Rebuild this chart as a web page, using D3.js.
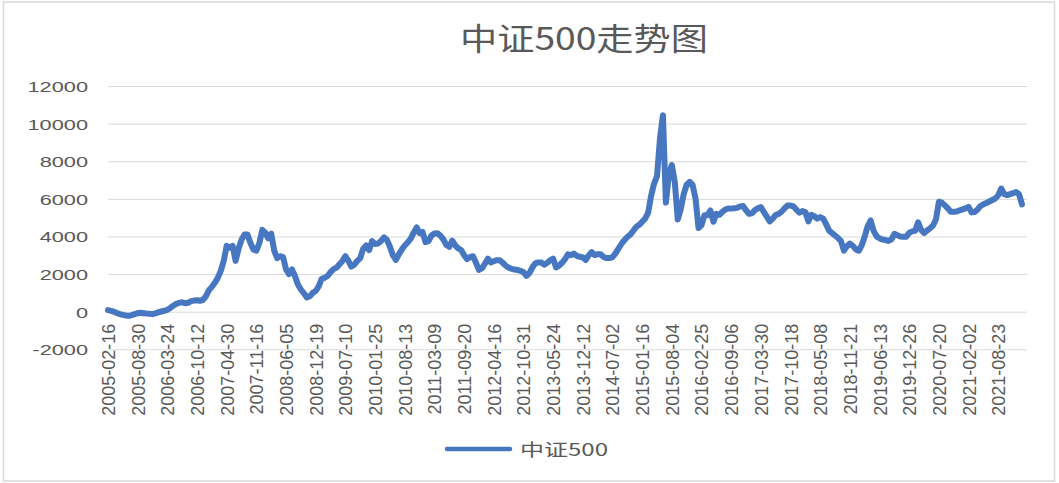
<!DOCTYPE html>
<html>
<head>
<meta charset="utf-8">
<script src="https://cdn.jsdelivr.net/npm/d3@7"></script>
<style>
  body { margin: 0; background: #fff; }
  text { fill: #595959; }
</style>
</head>
<body>
<div id="chart"></div>
<script>
// ============
// Data
// ============

// category labels shown on the x axis (every 10th sample)
var tickDates = [
  "2005-02-16", "2005-08-30", "2006-03-24", "2006-10-12", "2007-04-30",
  "2007-11-16", "2008-06-05", "2008-12-19", "2009-07-10", "2010-01-25",
  "2010-08-13", "2011-03-09", "2011-09-20", "2012-04-16", "2012-10-31",
  "2013-05-24", "2013-12-12", "2014-07-02", "2015-01-16", "2015-08-04",
  "2016-02-25", "2016-09-06", "2017-03-30", "2017-10-18", "2018-05-08",
  "2018-11-21", "2019-06-13", "2019-12-26", "2020-07-20", "2021-02-02",
  "2021-08-23"
];
var samplesPerTick = 10;

var yTicks = [-2000, 0, 2000, 4000, 6000, 8000, 10000, 12000];

// 中证500, one value every ~13 trading days
var csi500 = [
  80, 40, 0, -70, -130, -170, -200, -220, -180, -130,
  -80, -60, -80, -100, -110, -130, -90, -30, 10, 50,
  100, 200, 320, 420, 470, 500, 450, 470, 560, 590,
  610, 580, 620, 830, 1140, 1320, 1540, 1800, 2170, 2700,
  3500, 3400, 3500, 2700, 3350, 3830, 4100, 4100, 3650, 3300,
  3250, 3650, 4350, 4200, 3900, 4150, 3250, 2850, 2950, 2900,
  2250, 2000, 2250, 1900, 1450, 1180, 980, 760, 820, 1000,
  1100, 1350, 1750, 1800, 1900, 2100, 2260, 2340, 2520, 2700,
  2950, 2700, 2400, 2500, 2700, 2850, 3350, 3520, 3280, 3750,
  3600, 3620, 3760, 3950, 3820, 3450, 3000, 2750, 3050, 3300,
  3520, 3680, 3880, 4200, 4480, 4170, 4240, 3700, 3750, 4050,
  4160, 4170, 4050, 3850, 3550, 3450, 3780, 3530, 3370, 3280,
  3000, 2800, 2900, 2950, 2600, 2220, 2300, 2550, 2820, 2620,
  2680, 2740, 2740, 2600, 2450, 2340, 2280, 2240, 2220, 2170,
  2110, 1900, 2050, 2350, 2570, 2620, 2620, 2500, 2600, 2740,
  2820, 2350, 2450, 2600, 2800, 3050, 3000, 3090, 2960, 2920,
  2880, 2750, 3000, 3170, 3010, 3060, 3050, 2910, 2850, 2850,
  2900, 3100, 3350, 3600, 3800, 3970, 4100, 4300, 4510, 4620,
  4780, 4950, 5250, 6150, 6800, 7200, 9200, 10450, 5800, 7300,
  7800, 6900, 4900, 5450, 6250, 6750, 6900, 6740, 6000, 4450,
  4600, 5130, 5130, 5380, 4780, 5200, 5150, 5300, 5430, 5490,
  5480, 5500, 5520, 5600, 5620, 5400, 5200, 5230, 5400, 5500,
  5560, 5300, 5050, 4800, 4950, 5140, 5200, 5320, 5500, 5640,
  5640, 5600, 5420, 5260, 5350, 5300, 4800, 5150, 5080, 4950,
  5030, 4950, 4650, 4310, 4180, 4050, 3920, 3750, 3250, 3480,
  3620, 3500, 3320, 3240, 3530, 4000, 4550, 4850, 4300, 4000,
  3900, 3840, 3810, 3760, 3850, 4140, 4070, 4000, 3980, 3980,
  4200, 4270, 4300, 4750, 4350, 4180, 4320, 4430, 4580, 4900,
  5850, 5800, 5650, 5500, 5310, 5310, 5330, 5390, 5440, 5500,
  5570, 5280, 5300, 5430, 5620, 5710, 5780, 5860, 5940, 6020,
  6190, 6550, 6250, 6200, 6250, 6300, 6360, 6250, 5700
];

// ============
// Set up of the chart and svg
// ============
var svgWidth = 1059;
var svgHeight = 483;
var lineColor = "#4677C0";
var gridColor = "#d9d9d9";

var plot = { left: 108, right: 1027, top: 86, bottom: 349.3, lineEnd: 1022 };

var svg = d3.select("#chart")
  .append("svg")
  .attr("width", svgWidth)
  .attr("height", svgHeight);

// chart area border
svg.append("rect")
  .attr("x", 3.5)
  .attr("y", 2)
  .attr("width", 1051)
  .attr("height", 479)
  .attr("fill", "#fff")
  .attr("stroke", gridColor)
  .attr("stroke-width", 1.5);

var xScale = d3.scaleLinear()
  .domain([0, csi500.length - 1])
  .range([plot.left, plot.lineEnd]);

var yScale = d3.scaleLinear()
  .domain([d3.min(yTicks), d3.max(yTicks)])
  .range([plot.bottom, plot.top]);

// ============
// Axes
// ============
var leftAxis = d3.axisLeft(yScale)
  .tickValues(yTicks)
  .tickSize(-(plot.right - plot.left))
  .tickFormat(d => String(d)); // plain hyphen for negatives, like the source

var yAxis = svg.append("g")
  .attr("transform", `translate(${plot.left}, 0)`)
  .call(leftAxis);

yAxis.select(".domain").remove();
yAxis.selectAll("line")
  .attr("stroke", gridColor)
  .attr("stroke-width", 1);
yAxis.selectAll("text")
  .attr("x", 0)
  .attr("dy", "0.36em")
  .attr("transform", "translate(-20, 0) scale(1.45, 1)")
  .style("font-family", "'Liberation Sans', Arial, sans-serif")
  .style("font-size", "15px")
  .attr("fill", null);

var bottomAxis = d3.axisBottom(xScale)
  .tickValues(d3.range(0, tickDates.length * samplesPerTick, samplesPerTick))
  .tickSize(0)
  .tickFormat(i => tickDates[i / samplesPerTick]);

var xAxis = svg.append("g")
  .attr("transform", `translate(0, ${yScale(0)})`)
  .call(bottomAxis);

xAxis.select(".domain").remove();
xAxis.selectAll("text")
  .attr("transform", "rotate(-90)")
  .attr("text-anchor", "end")
  .attr("x", -12)
  .attr("y", 0)
  .attr("dy", "0.36em")
  .style("font-family", "'Liberation Sans', Arial, sans-serif")
  .style("font-size", "18px")
  .attr("fill", null);

// ============
// The line
// ============
var line = d3.line()
  .x((d, i) => xScale(i))
  .y(d => yScale(d));

svg.append("path")
  .datum(csi500)
  .attr("d", line)
  .attr("fill", "none")
  .attr("stroke", lineColor)
  .attr("stroke-width", 6)
  .attr("stroke-linejoin", "round")
  .attr("stroke-linecap", "round");

// ============
// Title and legend
// ============
svg.append("text")
  .attr("x", 460)
  .attr("y", 50)
  .attr("textLength", 248)
  .attr("lengthAdjust", "spacingAndGlyphs")
  .style("font-family", "'Noto Sans CJK SC', sans-serif")
  .style("font-size", "31px")
  .text("中证500走势图");

svg.append("line")
  .attr("x1", 447)
  .attr("x2", 510)
  .attr("y1", 449)
  .attr("y2", 449)
  .attr("stroke", lineColor)
  .attr("stroke-width", 4.5)
  .attr("stroke-linecap", "round");

svg.append("text")
  .attr("x", 520)
  .attr("y", 456)
  .attr("textLength", 88)
  .attr("lengthAdjust", "spacingAndGlyphs")
  .style("font-family", "'Noto Sans CJK SC', sans-serif")
  .style("font-size", "17px")
  .text("中证500");
</script>
</body>
</html>
